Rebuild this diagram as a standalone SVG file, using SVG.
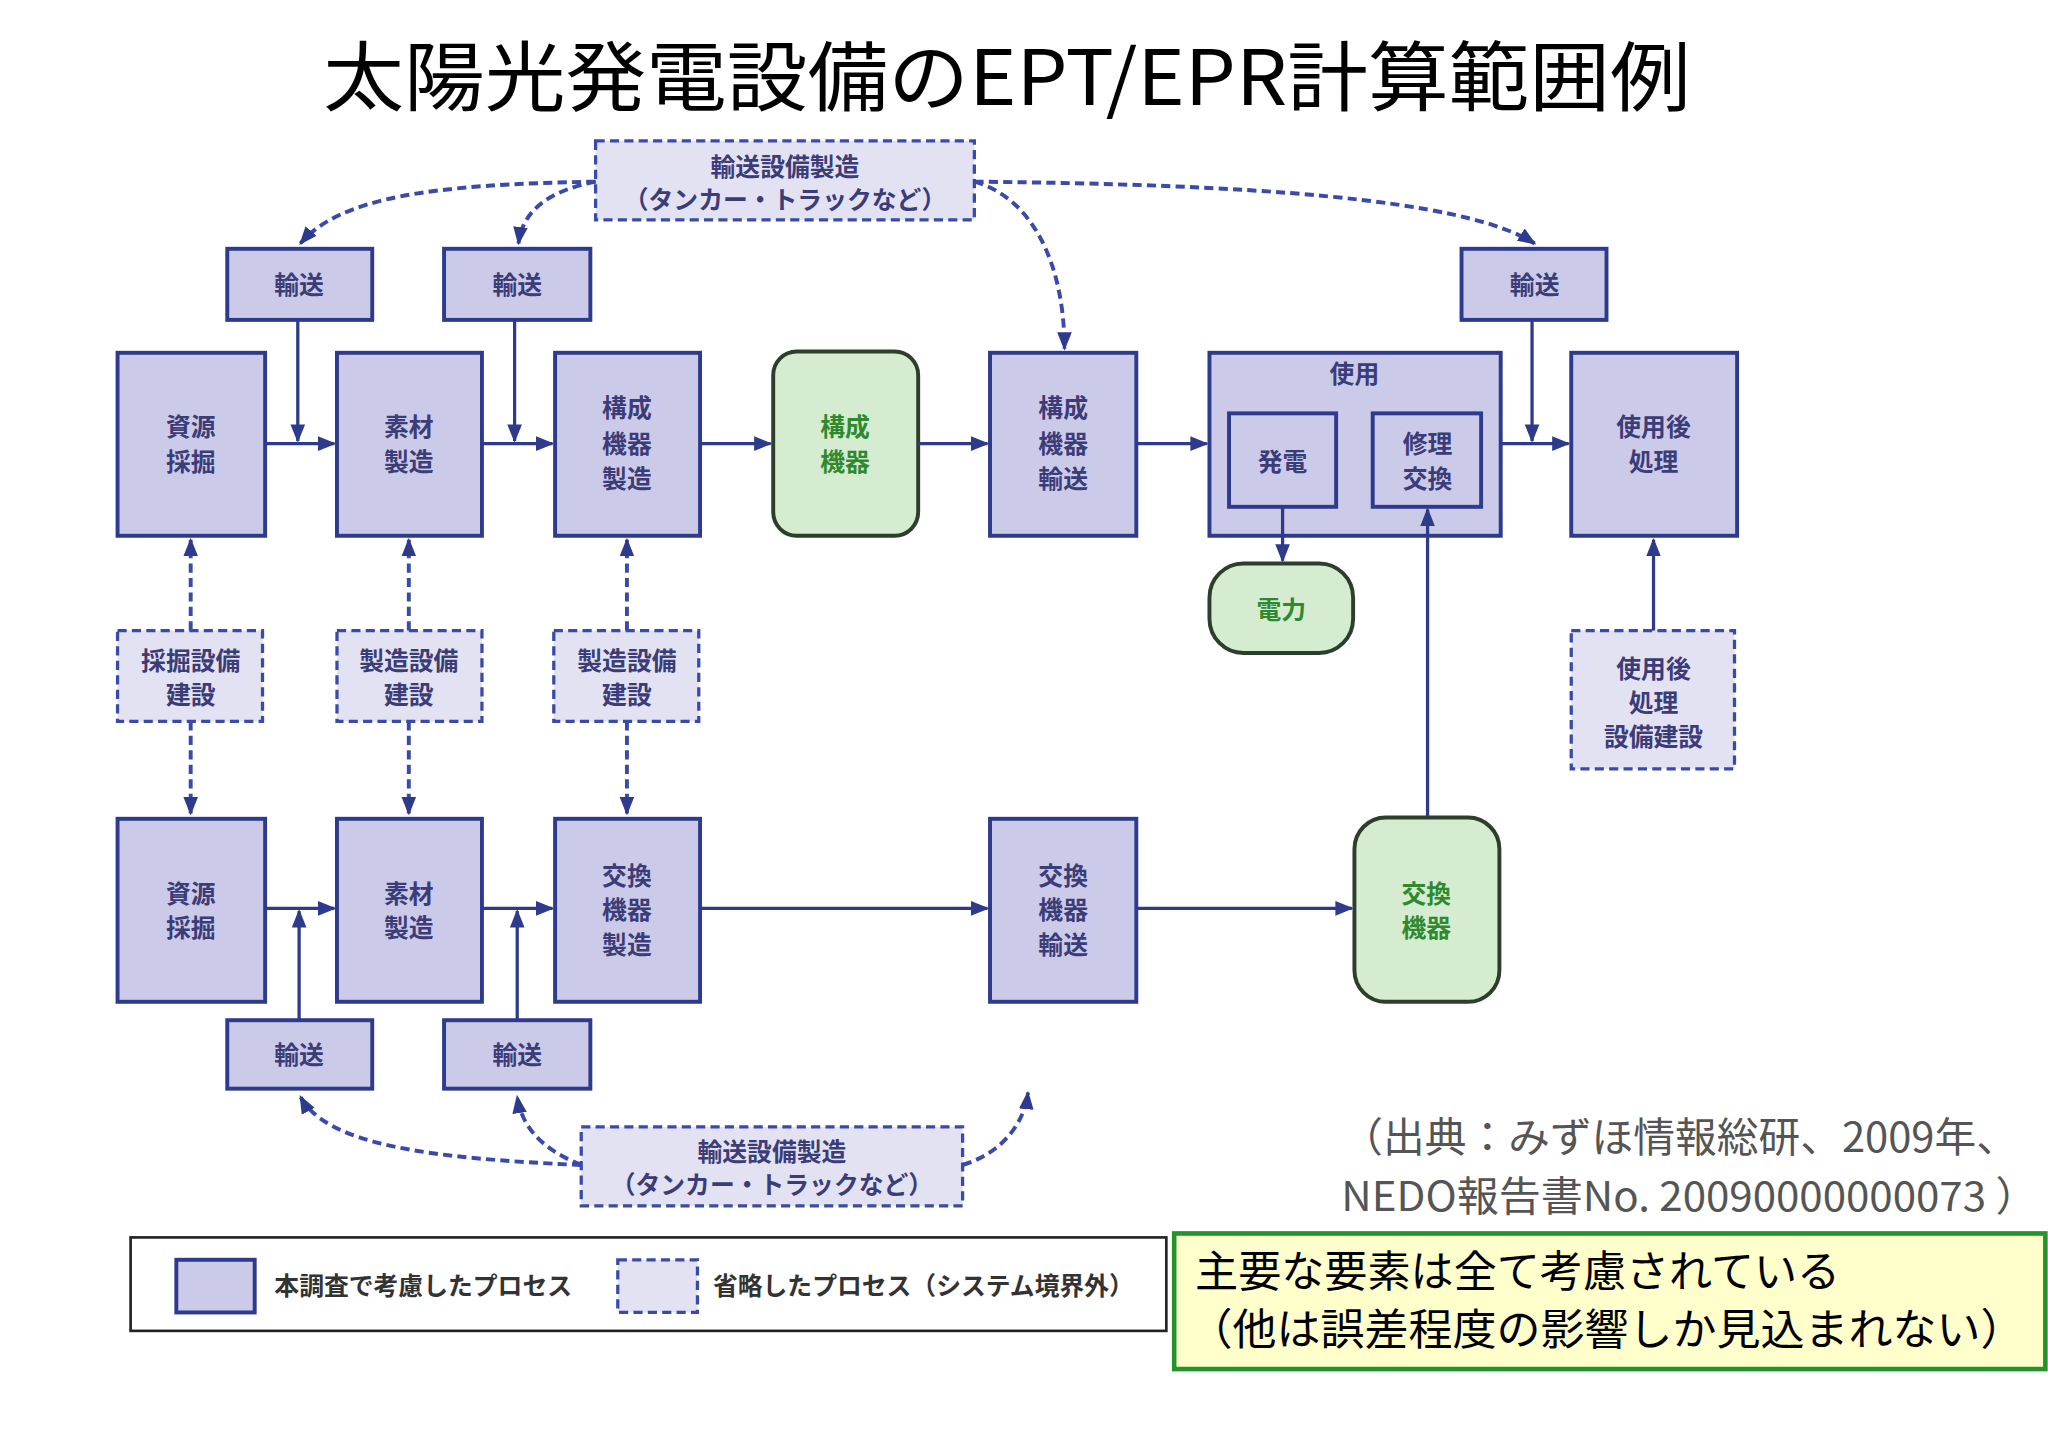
<svg xmlns="http://www.w3.org/2000/svg" width="2048" height="1448" viewBox="0 0 2048 1448">
<style>
.b{fill:#cbcbe9;stroke:#2e3a8c;stroke-width:3}
.d{fill:#e2e2f2;stroke:#3a4aa8;stroke-width:2.5;stroke-dasharray:7 4}
.g{fill:#d5ecd0;stroke:#2b3f2b;stroke-width:3}
.t{font-family:"Noto Sans CJK JP",sans-serif;font-weight:bold;font-size:19px;fill:#3c3c78;text-anchor:middle}
.tg{font-family:"Noto Sans CJK JP",sans-serif;font-weight:bold;font-size:19px;fill:#2f8a2f;text-anchor:middle}
.l{fill:none;stroke:#2e3a8c;stroke-width:2.5}
.dl{fill:none;stroke:#3a4aa8;stroke-width:3;stroke-dasharray:7 4}
</style>
<defs>
<marker id="m" viewBox="0 0 10 10" refX="9" refY="5" markerWidth="14" markerHeight="14" orient="auto" markerUnits="userSpaceOnUse"><path d="M0,1L10,5L0,9z" fill="#2e3a8c"/></marker>
</defs>
<rect width="2048" height="1448" fill="#fff"/>
<g transform="scale(1.3061,1.3164)">
<text x="771" y="80" font-family="'Noto Sans CJK JP',sans-serif" font-size="58" text-anchor="middle" fill="#000" textLength="1047" lengthAdjust="spacingAndGlyphs">太陽光発電設備のEPT/EPR計算範囲例</text>

<g id="top-transport-mfg"><rect class="d" x="456" y="107" width="290" height="60"/><text class="t" x="601" y="134" font-size="17">輸送設備製造</text><text class="t" x="601" y="159" font-size="17">（タンカー・トラックなど）</text></g>
<g id="t1"><rect class="b" x="174" y="189" width="111" height="54"/><text class="t" x="229" y="223" font-size="17">輸送</text></g>
<g id="t2"><rect class="b" x="340" y="189" width="112" height="54"/><text class="t" x="396" y="223" font-size="17">輸送</text></g>
<g id="t3"><rect class="b" x="1119" y="189" width="111" height="54"/><text class="t" x="1175" y="223" font-size="17">輸送</text></g>

<g id="n1"><rect class="b" x="90" y="268" width="113" height="139"/><text class="t" x="146" y="331">資源</text><text class="t" x="146" y="358">採掘</text></g>
<g id="n2"><rect class="b" x="258" y="268" width="111" height="139"/><text class="t" x="313" y="331">素材</text><text class="t" x="313" y="358">製造</text></g>
<g id="n3"><rect class="b" x="425" y="268" width="111" height="139"/><text class="t" x="480" y="317">構成</text><text class="t" x="480" y="344">機器</text><text class="t" x="480" y="371">製造</text></g>
<g id="n4"><rect class="g" x="592" y="267" width="111" height="140" rx="18"/><text class="tg" x="647" y="331">構成</text><text class="tg" x="647" y="358">機器</text></g>
<g id="n5"><rect class="b" x="758" y="268" width="112" height="139"/><text class="t" x="814" y="317">構成</text><text class="t" x="814" y="344">機器</text><text class="t" x="814" y="371">輸送</text></g>
<g id="n6"><rect class="b" x="926" y="268" width="223" height="139"/><text class="t" x="1037" y="291" font-size="17">使用</text>
<rect class="b" x="941" y="314" width="82" height="71"/><text class="t" x="982" y="358">発電</text>
<rect class="b" x="1051" y="314" width="83" height="71"/><text class="t" x="1093" y="344">修理</text><text class="t" x="1093" y="371">交換</text></g>
<g id="n7"><rect class="b" x="1203" y="268" width="127" height="139"/><text class="t" x="1266" y="331">使用後</text><text class="t" x="1266" y="358">処理</text></g>
<g id="n8"><rect class="g" x="926" y="428" width="110" height="68" rx="26"/><text class="tg" x="981" y="470">電力</text></g>

<g id="m1"><rect class="d" x="90" y="479" width="111" height="69"/><text class="t" x="146" y="509" font-size="18">採掘設備</text><text class="t" x="146" y="535" font-size="18">建設</text></g>
<g id="m2"><rect class="d" x="258" y="479" width="111" height="69"/><text class="t" x="313" y="509" font-size="18">製造設備</text><text class="t" x="313" y="535" font-size="18">建設</text></g>
<g id="m3"><rect class="d" x="424" y="479" width="111" height="69"/><text class="t" x="480" y="509" font-size="18">製造設備</text><text class="t" x="480" y="535" font-size="18">建設</text></g>
<g id="m4"><rect class="d" x="1203" y="479" width="125" height="105"/><text class="t" x="1266" y="515" font-size="18">使用後</text><text class="t" x="1266" y="541" font-size="18">処理</text><text class="t" x="1266" y="567" font-size="18">設備建設</text></g>

<g id="b1"><rect class="b" x="90" y="622" width="113" height="139"/><text class="t" x="146" y="686">資源</text><text class="t" x="146" y="712">採掘</text></g>
<g id="b2"><rect class="b" x="258" y="622" width="111" height="139"/><text class="t" x="313" y="686">素材</text><text class="t" x="313" y="712">製造</text></g>
<g id="b3"><rect class="b" x="425" y="622" width="111" height="139"/><text class="t" x="480" y="672">交換</text><text class="t" x="480" y="698">機器</text><text class="t" x="480" y="725">製造</text></g>
<g id="b4"><rect class="b" x="758" y="622" width="112" height="139"/><text class="t" x="814" y="672">交換</text><text class="t" x="814" y="698">機器</text><text class="t" x="814" y="725">輸送</text></g>
<g id="b5"><rect class="g" x="1037" y="621" width="111" height="140" rx="24"/><text class="tg" x="1092" y="686">交換</text><text class="tg" x="1092" y="712">機器</text></g>

<g id="bt1"><rect class="b" x="174" y="775" width="111" height="52"/><text class="t" x="229" y="808" font-size="17">輸送</text></g>
<g id="bt2"><rect class="b" x="340" y="775" width="112" height="52"/><text class="t" x="396" y="808" font-size="17">輸送</text></g>
<g id="bottom-transport-mfg"><rect class="d" x="445" y="856" width="292" height="60"/><text class="t" x="591" y="882" font-size="17">輸送設備製造</text><text class="t" x="591" y="907" font-size="17">（タンカー・トラックなど）</text></g>

<g id="connectors">
<path class="dl" d="M456,138 C330,140 260,150 230,185" marker-end="url(#m)"/>
<path class="dl" d="M456,138 C420,145 400,160 397,185" marker-end="url(#m)"/>
<path class="dl" d="M746,138 C950,140 1120,150 1175,185" marker-end="url(#m)"/>
<path class="dl" d="M746,138 C790,150 815,200 815,265" marker-end="url(#m)"/>
<path class="dl" d="M445,885 C330,880 250,870 230,833" marker-end="url(#m)"/>
<path class="dl" d="M445,885 C420,875 400,860 396,833" marker-end="url(#m)"/>
<path class="dl" d="M737,885 C770,875 785,850 787,830" marker-end="url(#m)"/>
<path class="dl" d="M146,479 V410" marker-end="url(#m)"/>
<path class="dl" d="M146,548 V618" marker-end="url(#m)"/>
<path class="dl" d="M313,479 V410" marker-end="url(#m)"/>
<path class="dl" d="M313,548 V618" marker-end="url(#m)"/>
<path class="dl" d="M480,479 V410" marker-end="url(#m)"/>
<path class="dl" d="M480,548 V618" marker-end="url(#m)"/>
<path class="l" d="M1266,479 V410" marker-end="url(#m)"/>
<path class="l" d="M203,337 H256" marker-end="url(#m)"/>
<path class="l" d="M228,243 V335" marker-end="url(#m)"/>
<path class="l" d="M369,337 H423" marker-end="url(#m)"/>
<path class="l" d="M394,243 V335" marker-end="url(#m)"/>
<path class="l" d="M536,337 H590" marker-end="url(#m)"/>
<path class="l" d="M703,337 H756" marker-end="url(#m)"/>
<path class="l" d="M870,337 H924" marker-end="url(#m)"/>
<path class="l" d="M1149,337 H1201" marker-end="url(#m)"/>
<path class="l" d="M1173,243 V335" marker-end="url(#m)"/>
<path class="l" d="M982,385 V426" marker-end="url(#m)"/>
<path class="l" d="M1093,620 V387" marker-end="url(#m)"/>
<path class="l" d="M203,690 H256" marker-end="url(#m)"/>
<path class="l" d="M229,775 V692" marker-end="url(#m)"/>
<path class="l" d="M369,690 H423" marker-end="url(#m)"/>
<path class="l" d="M396,775 V692" marker-end="url(#m)"/>
<path class="l" d="M536,690 H756" marker-end="url(#m)"/>
<path class="l" d="M870,690 H1035" marker-end="url(#m)"/>
</g>

<g id="legend"><rect x="100" y="940" width="793" height="71" fill="#fff" stroke="#222" stroke-width="2"/>
<rect class="b" x="135" y="957" width="60" height="40"/><text class="t" x="324" y="984" font-size="19" style="fill:#333">本調査で考慮したプロセス</text>
<rect class="d" x="473" y="957" width="61" height="40"/><text class="t" x="707" y="984" font-size="19" style="fill:#333">省略したプロセス（システム境界外）</text></g>

<text x="1027" y="875" font-family="'Noto Sans CJK JP',sans-serif" font-size="31" fill="#555" textLength="518" lengthAdjust="spacingAndGlyphs">（出典：みずほ情報総研、2009年、</text>
<text x="1027" y="920" font-family="'Noto Sans CJK JP',sans-serif" font-size="31" fill="#555" textLength="533" lengthAdjust="spacingAndGlyphs">NEDO報告書No. 20090000000073 ）</text>
<g id="note"><rect x="899" y="937" width="667" height="103" fill="#ffffcc" stroke="#22942a" stroke-width="3.5"/>
<text x="915" y="978" font-family="'Noto Sans CJK JP',sans-serif" font-size="33" fill="#000">主要な要素は全て考慮されている</text>
<text x="910" y="1022" font-family="'Noto Sans CJK JP',sans-serif" font-size="33" fill="#000" textLength="640" lengthAdjust="spacingAndGlyphs">（他は誤差程度の影響しか見込まれない）</text></g>
</g>
</svg>
